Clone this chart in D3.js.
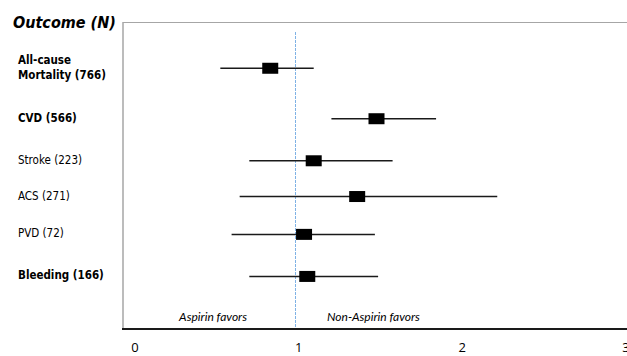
<!DOCTYPE html>
<html>
<head>
<meta charset="utf-8">
<script src="https://cdn.jsdelivr.net/npm/d3@7"></script>
<style>
body { margin: 0; background: #fff; }
svg { display: block; }
.tah { font-family: "DejaVu Sans Condensed", "DejaVu Sans", sans-serif; font-stretch: condensed; }
</style>
</head>
<body>
<div id="chart"></div>
<script>
// outcomes, top to bottom
var outcomes = ["All-cause Mortality (766)", "CVD (566)", "Stroke (223)", "ACS (271)", "PVD (72)", "Bleeding (166)"];
var labelLines = [["All-cause", "Mortality (766)"], ["CVD (566)"], ["Stroke (223)"], ["ACS (271)"], ["PVD (72)"], ["Bleeding (166)"]];
var boldRow = [true, true, false, false, false, true];
var rowPos = [6.2, 5.0, 4.0, 3.15, 2.25, 1.25];
var estimate = [0.84, 1.50, 1.11, 1.38, 1.05, 1.07];
var lower = [0.53, 1.22, 0.71, 0.65, 0.60, 0.71];
var upper = [1.11, 1.87, 1.60, 2.25, 1.49, 1.51];
var xTicks = [0, 1, 2, 3];

var width = 627, height = 356;
var svg = d3.select("#chart").append("svg").attr("width", width).attr("height", height);

var x = d3.scaleLinear().domain([0, 3]).range([135, 618]);
// tick labels sit on their own slightly wider axis
var xLab = d3.scaleLinear().domain([0, 3]).range([134.5, 625.5]);
var y = d3.scaleLinear().domain([0, 7.3]).range([329, 22]);

var data = outcomes.map(function(d, i) {
  return {name: d, lines: labelLines[i], bold: boldRow[i], pos: rowPos[i], est: estimate[i], lo: lower[i], hi: upper[i]};
});

// frame
svg.append("line").attr("x1", 123).attr("x2", 123).attr("y1", 22).attr("y2", 329)
  .attr("stroke", "#a6a6a6").attr("stroke-width", 1.5);
svg.append("line").attr("x1", 123).attr("x2", width).attr("y1", 22.5).attr("y2", 22.5)
  .attr("stroke", "#a6a6a6").attr("stroke-width", 1.2);

// reference line at 1
svg.append("line").attr("x1", x(1) - 0.5).attr("x2", x(1) - 0.5).attr("y1", 32).attr("y2", 329)
  .attr("stroke", "#7fb2e5").attr("stroke-width", 1).attr("stroke-dasharray", "3,1");

// bottom axis
svg.append("line").attr("x1", 122).attr("x2", width).attr("y1", 329).attr("y2", 329)
  .attr("stroke", "#1a1a1a").attr("stroke-width", 2);
var ax = svg.append("g").attr("transform", "translate(0,329)")
  .call(d3.axisBottom(xLab).tickValues(xTicks).tickSize(0).tickPadding(14).tickFormat(d3.format("d")));
ax.select(".domain").remove();
ax.selectAll("text").style("font-family", "Open Sans").style("font-size", "13px").attr("fill", "#000");

// title
svg.append("text").attr("class", "tah").attr("x", 13).attr("y", 28)
  .style("font-size", "16px").style("font-weight", "bold").style("font-style", "italic")
  .text("Outcome (N)");

// row labels
var lab = svg.selectAll(".lab").data(data).enter().append("text")
  .attr("class", "lab tah")
  .attr("x", 18)
  .attr("y", function(d) { return y(d.pos) + 3 - (d.lines.length - 1) * 7.5; })
  .attr("dy", "0.35em")
  .style("font-size", "11.5px")
  .style("font-weight", function(d) { return d.bold ? "bold" : "normal"; });
lab.selectAll("tspan").data(function(d) { return d.lines; }).enter().append("tspan")
  .attr("x", 18)
  .attr("dy", function(d, i) { return i ? 15 : 0; })
  .text(function(d) { return d; });

// whiskers
svg.selectAll(".ci").data(data).enter().append("line")
  .attr("class", "ci")
  .attr("x1", function(d) { return x(d.lo); })
  .attr("x2", function(d) { return x(d.hi); })
  .attr("y1", function(d) { return y(d.pos); })
  .attr("y2", function(d) { return y(d.pos); })
  .attr("stroke", "#1a1a1a").attr("stroke-width", 1.5);

// point estimates
svg.selectAll(".pt").data(data).enter().append("rect")
  .attr("class", "pt")
  .attr("x", function(d) { return x(d.est) - 8; })
  .attr("y", function(d) { return y(d.pos) - 5.5; })
  .attr("width", 16).attr("height", 11)
  .attr("fill", "#000");

// favour annotations
svg.append("text").attr("x", x(1) - 49).attr("y", 317).attr("dy", "0.35em").attr("text-anchor", "end")
  .style("font-family", "Lato").style("font-size", "12px").style("font-style", "italic")
  .text("Aspirin favors");
svg.append("text").attr("x", x(1) + 31).attr("y", 317).attr("dy", "0.35em")
  .style("font-family", "Lato").style("font-size", "12px").style("font-style", "italic")
  .text("Non-Aspirin favors");
</script>
</body>
</html>
